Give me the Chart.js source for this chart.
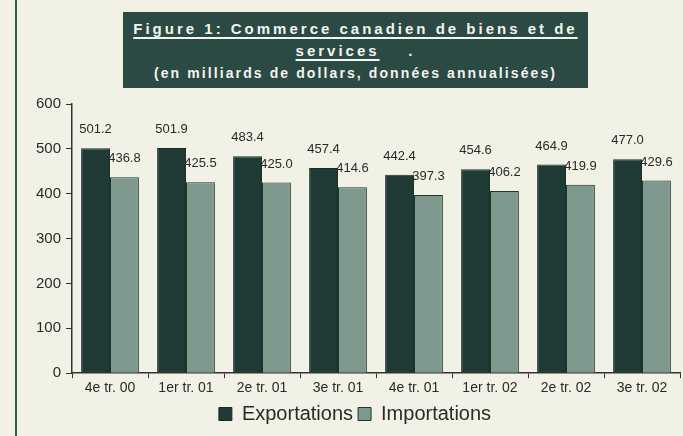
<!DOCTYPE html>
<html>
<head>
<meta charset="utf-8">
<script src="https://cdn.jsdelivr.net/npm/chart.js@4"></script>
<style>
  html, body { margin: 0; padding: 0; background: #f2f1e5; }
  #wrap { position: relative; width: 683px; height: 436px; overflow: hidden; }
  #frame { position: absolute; left: 15px; top: 0; width: 2px; height: 436px; background: #2f5a4e; }
  #titleBox {
    position: absolute; left: 123px; top: 12px; width: 465px; height: 76px;
    background: #2c4a44; color: #f4f4f0; text-align: center;
    font-family: "Liberation Sans", Arial, sans-serif; font-weight: bold;
  }
  #titleBox .l1 { font-size: 15px; letter-spacing: 3px; margin-top: 6px; line-height: 22px; }
  #titleBox .l2 { font-size: 15px; letter-spacing: 3px; line-height: 22px; }
  #titleBox .l3 { font-size: 14px; letter-spacing: 2.1px; line-height: 23px; }
  #titleBox u { text-decoration-thickness: 2px; text-underline-offset: 3px; }
  canvas { position: absolute; left: 0; top: 0; }
</style>
</head>
<body>
<div id="wrap">
  <div id="frame"></div>
  <canvas id="chart" width="683" height="436"></canvas>
  <div id="titleBox">
    <div class="l1"><u>Figure 1: Commerce canadien de biens et de</u></div>
    <div class="l2"><u>services</u> &nbsp;&nbsp; .</div>
    <div class="l3">(en milliards de dollars, données annualisées)</div>
  </div>
</div>
<script>
const categories = ["4e tr. 00", "1er tr. 01", "2e tr. 01", "3e tr. 01", "4e tr. 01", "1er tr. 02", "2e tr. 02", "3e tr. 02"];
const exportations = [501.2, 501.9, 483.4, 457.4, 442.4, 454.6, 464.9, 477.0];
const importations = [436.8, 425.5, 425.0, 414.6, 397.3, 406.2, 419.9, 429.6];
const yTicks = [0, 100, 200, 300, 400, 500, 600];

const valueLabels = {
  id: "valueLabels",
  afterDatasetsDraw(chart) {
    const ctx = chart.ctx;
    ctx.save();
    ctx.font = "13px 'Liberation Sans', Arial, sans-serif";
    ctx.fillStyle = "#2a2a2a";
    ctx.textAlign = "center";
    ctx.textBaseline = "bottom";
    chart.data.datasets.forEach((ds, i) => {
      chart.getDatasetMeta(i).data.forEach((bar, j) => {
        ctx.fillText(ds.data[j].toFixed(1), bar.x, bar.y - 12);
      });
    });
    ctx.restore();
  }
};

new Chart(document.getElementById("chart"), {
  type: "bar",
  data: {
    labels: categories,
    datasets: [
      {
        label: "Exportations",
        data: exportations,
        backgroundColor: "#203b35",
        borderColor: "#1a2e2a",
        borderWidth: 1
      },
      {
        label: "Importations",
        data: importations,
        backgroundColor: "#7f988d",
        borderColor: "#1f3530",
        borderWidth: 1
      }
    ]
  },
  options: {
    responsive: false,
    animation: false,
    layout: { padding: { left: 30, right: 3, top: 104, bottom: 2 } },
    categoryPercentage: 0.76,
    barPercentage: 1.0,
    plugins: {
      legend: {
        position: "bottom",
        labels: {
          font: { family: "'Liberation Sans', Arial, sans-serif", size: 20 },
          color: "#2a2a2a",
          boxWidth: 13,
          boxHeight: 13,
          padding: 5
        }
      },
      tooltip: { enabled: false }
    },
    scales: {
      x: {
        grid: { drawOnChartArea: false, drawTicks: true, tickLength: 5, color: "#333" },
        border: { display: true, color: "#333", width: 1.5 },
        ticks: {
          color: "#2a2a2a",
          font: { family: "'Liberation Sans', Arial, sans-serif", size: 14 },
          maxRotation: 0,
          padding: 2
        }
      },
      y: {
        min: 0,
        max: 600,
        afterBuildTicks: axis => { axis.ticks = yTicks.map(v => ({ value: v })); },
        grid: { drawOnChartArea: false, drawTicks: true, tickLength: 6, color: "#333" },
        border: { display: true, color: "#333", width: 1.5 },
        ticks: {
          color: "#2a2a2a",
          font: { family: "'Liberation Sans', Arial, sans-serif", size: 15 },
          padding: 5
        },
        afterFit: axis => { axis.width = 42; }
      }
    }
  },
  plugins: [valueLabels]
});
</script>
</body>
</html>
